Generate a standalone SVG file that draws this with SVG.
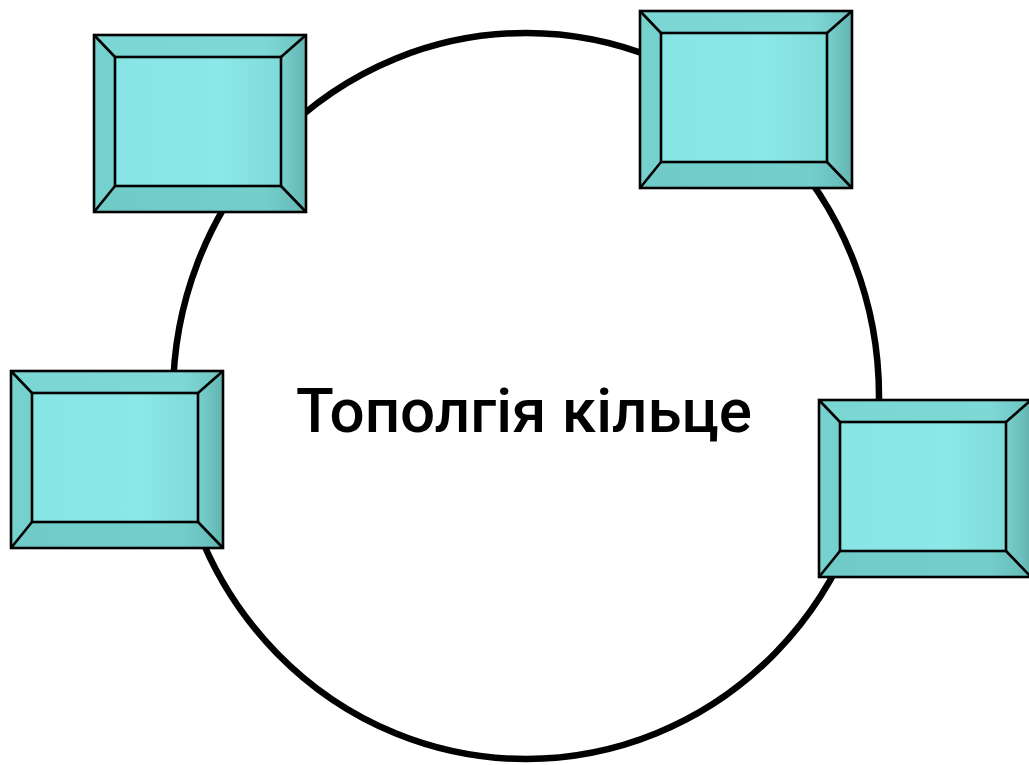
<svg xmlns="http://www.w3.org/2000/svg" xmlns:xlink="http://www.w3.org/1999/xlink" width="1029" height="765" viewBox="0 0 1029 765">
  <style>
    .ring { fill: none; stroke: #000; stroke-width: 6.5; }
    .edge { stroke: #000; stroke-width: 2.6; stroke-linejoin: miter; }
    .title { font-family: Roboto, "Noto Sans", "DejaVu Sans", sans-serif; font-weight: 500; font-size: 62px; fill: #000; }
  </style>
  <defs>
    <linearGradient id="faceGrad" x1="0" y1="0" x2="1" y2="0">
      <stop offset="0" stop-color="#88e5e5"/>
      <stop offset="0.65" stop-color="#8ae8e8"/>
      <stop offset="1" stop-color="#7fdad8"/>
    </linearGradient>
    <linearGradient id="rightGrad" x1="0" y1="0" x2="1" y2="0">
      <stop offset="0" stop-color="#78d0cd"/>
      <stop offset="1" stop-color="#63b4b1"/>
    </linearGradient>
    <linearGradient id="topGrad" x1="0" y1="0" x2="1" y2="0">
      <stop offset="0" stop-color="#7ad6d3"/>
      <stop offset="0.8" stop-color="#7ed9d6"/>
      <stop offset="1" stop-color="#6cc2bf"/>
    </linearGradient>
    <linearGradient id="bottomGrad" x1="0" y1="0" x2="1" y2="0">
      <stop offset="0" stop-color="#70cbc8"/>
      <stop offset="0.8" stop-color="#74cfcc"/>
      <stop offset="1" stop-color="#64b8b5"/>
    </linearGradient>
    <!-- bevelled station box, 212 x 177 -->
    <g id="station">
      <polygon points="0,0 212,0 187,22 21,22" fill="url(#topGrad)"/>
      <polygon points="212,0 212,177 187,151 187,22" fill="url(#rightGrad)"/>
      <polygon points="0,177 212,177 187,151 21,151" fill="url(#bottomGrad)"/>
      <polygon points="0,0 21,22 21,151 0,177" fill="#75d1ce"/>
      <rect x="21" y="22" width="166" height="129" fill="url(#faceGrad)"/>
      <g class="edge" fill="none">
        <rect x="0" y="0" width="212" height="177"/>
        <rect x="21" y="22" width="166" height="129"/>
        <line x1="0" y1="0" x2="21" y2="22"/>
        <line x1="212" y1="0" x2="187" y2="22"/>
        <line x1="212" y1="177" x2="187" y2="151"/>
        <line x1="0" y1="177" x2="21" y2="151"/>
      </g>
    </g>
  </defs>

  <g id="connectors">
    <ellipse class="ring" cx="526" cy="396" rx="353" ry="363"/>
  </g>

  <g id="node-top-left"><use xlink:href="#station" transform="translate(94,35)"/></g>
  <g id="node-top-right"><use xlink:href="#station" transform="translate(640,11)"/></g>
  <g id="node-right"><use xlink:href="#station" transform="translate(819,400)"/></g>
  <g id="node-left"><use xlink:href="#station" transform="translate(11,371)"/></g>

  <g id="label">
    <text class="title" x="524" y="432" text-anchor="middle">Тополгія кільце</text>
  </g>
</svg>
